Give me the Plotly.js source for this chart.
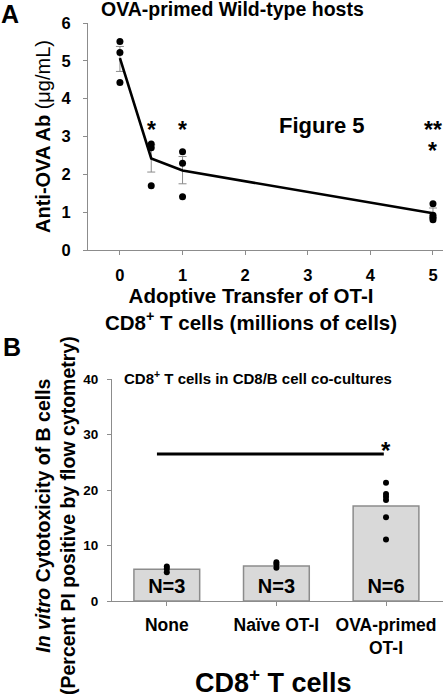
<!DOCTYPE html>
<html>
<head>
<meta charset="utf-8">
<script src="https://cdn.plot.ly/plotly-3.0.1.min.js"></script>
<style>html,body{margin:0;padding:0;background:#fff;}#chart{width:443px;height:699px;}</style>
</head>
<body>
<div id="chart"></div>
<script>
// ---------- Panel A data ----------
const aDoseX = [0, 0.5, 1, 5];
const aMeans = [5.07, 2.42, 2.10, 0.97];
const aErrPlus = [0.31, 0.36, 0.37, 0.14];
const aErrMinus = [0.35, 0.36, 0.35, 0.12];
const aPointX = [0, 0, 0, 0.5, 0.5, 0.5, 1, 1, 1, 5, 5, 5, 5];
const aPointY = [5.51, 5.22, 4.43, 2.80, 2.70, 1.70, 2.60, 2.29, 1.41, 1.22, 0.92, 0.86, 0.80];
const aTickVals = [0, 1, 2, 3, 4, 5];
const aYTickVals = [0, 1, 2, 3, 4, 5, 6];
const aStarX = [0.5, 1, 5, 5];
const aStarY = [3.3, 3.3, 3.3, 2.74];
const aStarText = ['*', '*', '**', '*'];

// ---------- Panel B data ----------
const bCategories = ['None', 'Naïve OT-I', 'OVA-primed<br>OT-I'];
const bMeans = [5.7, 6.3, 17.1];
const bNLabels = ['N=3', 'N=3', 'N=6'];
const bNLabelY = [2.4, 2.4, 2.4];
const bPointCat = ['None', 'None', 'None', 'Naïve OT-I', 'Naïve OT-I', 'Naïve OT-I',
  'OVA-primed<br>OT-I', 'OVA-primed<br>OT-I', 'OVA-primed<br>OT-I', 'OVA-primed<br>OT-I', 'OVA-primed<br>OT-I', 'OVA-primed<br>OT-I'];
const bPointY = [6.2, 5.8, 5.2, 7.0, 6.6, 6.0, 21.3, 19.3, 18.8, 18.2, 15.1, 11.1];
const bYTickVals = [0, 10, 20, 30, 40];
const bSigLine = {from: -0.09, to: 1.98, y: 26.5};
const bStar = {x: 2, y: 28.0, text: '*'};

const FONT = 'Arial, "Liberation Sans", sans-serif';
const W = 443, H = 699;
const px = v => v / W;
const py = v => 1 - v / H;

const axisBase = {
  showgrid: false, zeroline: false, showline: true,
  linecolor: '#8c8c8c', linewidth: 1,
  ticks: 'outside', ticklen: 4, tickcolor: '#8c8c8c', tickwidth: 1
};
const bold = s => '<b>' + String(s).split('<br>').join('</b><br><b>') + '</b>';
const tf = size => ({family: FONT, size: size, color: '#000', weight: 700});

const traces = [
  {
    x: aDoseX, y: aMeans, type: 'scatter', mode: 'lines',
    line: {color: '#000', width: 2.6},
    error_y: {type: 'data', symmetric: false, array: aErrPlus, arrayminus: aErrMinus,
      color: '#8c8c8c', thickness: 1, width: 4},
    xaxis: 'x', yaxis: 'y', hoverinfo: 'skip'
  },
  {
    x: aPointX, y: aPointY, type: 'scatter', mode: 'markers',
    marker: {color: '#000', size: 7},
    xaxis: 'x', yaxis: 'y'
  },
  {
    x: bCategories, y: bMeans, type: 'bar', width: 0.6,
    marker: {color: '#d9d9d9', line: {color: '#8c8c8c', width: 1.5}},
    xaxis: 'x2', yaxis: 'y2'
  },
  {
    x: bPointCat, y: bPointY, type: 'scatter', mode: 'markers',
    marker: {color: '#000', size: 6},
    xaxis: 'x2', yaxis: 'y2'
  },
  {
    x: bCategories, y: bNLabelY, type: 'scatter', mode: 'text',
    text: bNLabels.map(bold), textposition: 'middle center',
    textfont: {family: FONT, size: 20, color: '#000', weight: 700},
    xaxis: 'x2', yaxis: 'y2'
  }
];

const annotations = [];
function ann(o) {
  annotations.push(Object.assign({showarrow: false, xanchor: 'center', yanchor: 'middle'}, o));
}
const f = (size, extra) => Object.assign({family: FONT, size: size, weight: 700, color: '#000'}, extra || {});

// Panel labels
ann({text: bold('A'), x: px(10), y: py(14), xref: 'paper', yref: 'paper', font: f(25)});
ann({text: bold('B'), x: px(12), y: py(347), xref: 'paper', yref: 'paper', font: f(25)});
// Panel A title & axis titles
ann({text: bold('OVA-primed Wild-type hosts'), x: px(233), y: py(9), xref: 'paper', yref: 'paper', font: f(19.5)});
ann({text: '<b>Anti-OVA Ab</b> (μg/mL)', textangle: -90,
  x: px(43), y: py(137), xref: 'paper', yref: 'paper', font: f(20, {weight: 400})});
ann({text: '<b>Adoptive Transfer of OT-I</b><br><b>CD8<sup>+</sup> T cells (millions of cells)</b>',
  x: px(251), y: py(309), xref: 'paper', yref: 'paper', font: f(20.5)});
ann({text: bold('Figure 5'), x: 3.23, y: 3.3, xref: 'x', yref: 'y', font: f(22)});
for (let i = 0; i < aStarX.length; i++) {
  ann({text: bold(aStarText[i]), x: aStarX[i], y: aStarY[i], xref: 'x', yref: 'y',
    yshift: -5, font: f(23)});
}
// Panel B title & axis titles
ann({text: '<b>CD8<sup>+</sup> T cells in CD8/B cell co-cultures</b>', x: px(258), y: py(377),
  xref: 'paper', yref: 'paper', font: f(15)});
ann({text: '<b><i>In vitro</i> Cytotoxicity of B cells</b><br><b>(Percent PI positive by flow cytometry)</b>',
  textangle: -90, x: px(55), y: py(516), xref: 'paper', yref: 'paper', font: f(19.5)});
ann({text: '<b>CD8<sup>+</sup> T cells</b>', x: px(273), y: py(681), xref: 'paper', yref: 'paper', font: f(27)});
ann({text: bold(bStar.text), x: bStar.x, y: bStar.y, xref: 'x2', yref: 'y2',
  yshift: -5, font: f(24)});

const layout = {
  width: W, height: H,
  margin: {l: 0, r: 0, t: 0, b: 0},
  paper_bgcolor: '#fff', plot_bgcolor: '#fff',
  showlegend: false,
  font: {family: FONT, color: '#000'},
  xaxis: Object.assign({}, axisBase, {domain: [px(88), 1], range: [-0.51, 5.16],
    tickmode: 'array', tickvals: aTickVals, ticktext: aTickVals.map(bold),
    tickfont: tf(16.5), ticklabelstandoff: 6, anchor: 'y'}),
  yaxis: Object.assign({}, axisBase, {domain: [py(250), py(23)], range: [0, 6],
    tickmode: 'array', tickvals: aYTickVals, ticktext: aYTickVals.map(bold),
    tickfont: tf(16.5), ticklabelstandoff: 9, anchor: 'x'}),
  xaxis2: Object.assign({}, axisBase, {domain: [px(112), 1], range: [-0.5, 2.52], type: 'category',
    tickmode: 'array', tickvals: bCategories, ticktext: bCategories.map(bold),
    tickfont: tf(17.5), ticklabelstandoff: 4, anchor: 'y2'}),
  yaxis2: Object.assign({}, axisBase, {domain: [py(601), py(379)], range: [0, 40],
    tickmode: 'array', tickvals: bYTickVals, ticktext: bYTickVals.map(bold),
    tickfont: tf(13.5), ticklabelstandoff: 6, anchor: 'x2'}),
  shapes: [{type: 'line', xref: 'x2', yref: 'y2', x0: bSigLine.from, x1: bSigLine.to,
    y0: bSigLine.y, y1: bSigLine.y, line: {color: '#000', width: 3}}],
  annotations: annotations
};

Plotly.newPlot('chart', traces, layout, {staticPlot: true, displayModeBar: false});
</script>
</body>
</html>
